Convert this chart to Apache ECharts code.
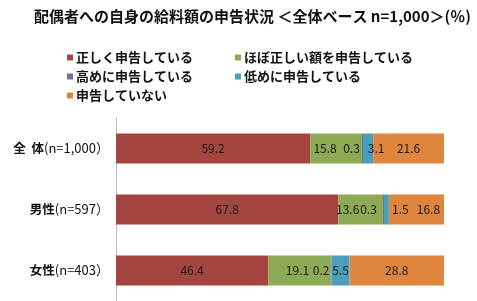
<!DOCTYPE html>
<html><head><meta charset="utf-8">
<script src="https://cdn.jsdelivr.net/npm/echarts@6/dist/echarts.min.js"></script>
<style>html,body{margin:0;padding:0;background:#fff}#c{width:477px;height:301px}</style>
</head><body><div id="c"></div>
<script>
const categories = ["全  体(n=1,000）", "男性(n=597）", "女性(n=403）"];
const seriesNames = ["正しく申告している", "ほぼ正しい額を申告している", "高めに申告している", "低めに申告している", "申告していない"];
const correct = [59.2, 67.8, 46.4];
const nearlyCorrect = [15.8, 13.6, 19.1];
const higher = [0.3, 0.3, 0.2];
const lower = [3.1, 1.5, 5.5];
const notDeclared = [21.6, 16.8, 28.8];

const colors = ["#A5453F", "#8DAA54", "#7B6B96", "#4A9FC1", "#E0853D"];
// label x-shifts (styling only) per series, per category
const labelShift = [[0,0,0],[-11,-13,-2],[-11,-15,-10],[8,14,0],[0,12,0]];
const values = [correct, nearlyCorrect, higher, lower, notDeclared];

const FONT = '"Noto Sans CJK JP", "Noto Sans", sans-serif';
const chart = echarts.init(document.getElementById('c'));
chart.setOption({
  animation: false,
  textStyle: {fontFamily: FONT},
  title: {
    text: "配偶者への自身の給料額の申告状況 ＜全体ベース n=1,000＞(％)",
    left: 29, top: 4,
    textStyle: {fontSize: 15, fontWeight: 'bold', color: '#111', fontFamily: FONT}
  },
  legend: [
    {data: [seriesNames[0], seriesNames[2], seriesNames[4]], orient: 'vertical', left: 62, top: 46,
     itemWidth: 6, itemHeight: 6, itemGap: 6, icon: 'rect',
     textStyle: {fontSize: 13, fontWeight: 'bold', color: '#111', padding: [0,0,0,-2]}},
    {data: [seriesNames[1], seriesNames[3]], orient: 'vertical', left: 230, top: 46,
     itemWidth: 6, itemHeight: 6, itemGap: 6, icon: 'rect',
     textStyle: {fontSize: 13, fontWeight: 'bold', color: '#111', padding: [0,0,0,-2]}}
  ],
  grid: {left: 116, right: 33, top: 118, bottom: 0},
  xAxis: {type: 'value', min: 0, max: 100, show: false},
  yAxis: {
    type: 'category', data: categories, inverse: true,
    axisLine: {lineStyle: {color: '#bbb'}}, axisTick: {show: false},
    axisLabel: {
      margin: 7,
      formatter: function (v) { const i = v.indexOf('('); return '{b|' + v.slice(0, i) + '}{n|' + v.slice(i) + '}'; },
      rich: {b: {fontSize: 12.5, fontWeight: 'bold', color: '#111', fontFamily: FONT},
             n: {fontSize: 13, color: '#111', fontFamily: FONT}}
    }
  },
  series: seriesNames.map((name, si) => ({
    name: name, type: 'bar', stack: 'all', barWidth: 30,
    itemStyle: {color: colors[si]},
    label: {show: true, position: 'inside', fontSize: 12, color: '#1a1a1a', fontFamily: FONT},
    data: values[si].map((v, ci) => ({value: v, label: {offset: [labelShift[si][ci], 0]}}))
  }))
});
</script></body></html>
